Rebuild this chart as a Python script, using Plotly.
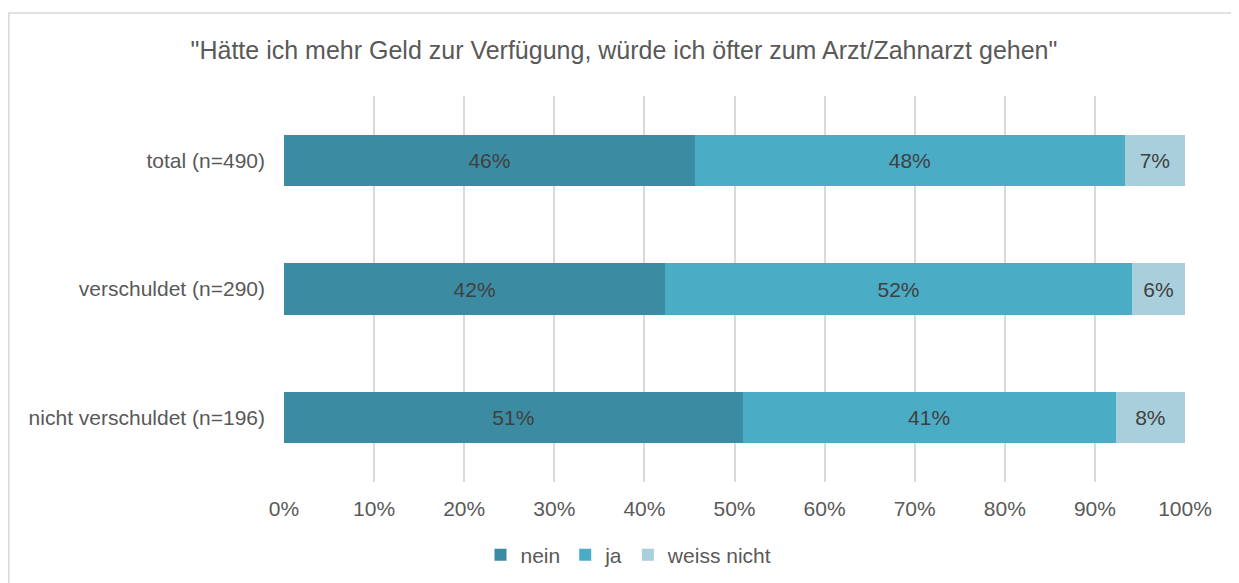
import plotly.graph_objects as go

categories = ["total (n=490)", "verschuldet (n=290)", "nicht verschuldet (n=196)"]
nein = [45.6, 42.3, 50.9]
ja = [47.7, 51.8, 41.4]
weiss_nicht = [6.7, 5.9, 7.7]
series_names = ["nein", "ja", "weiss nicht"]
colors = ["#3B8BA3", "#4BACC6", "#A9CFDC"]
tick_vals = [0, 10, 20, 30, 40, 50, 60, 70, 80, 90, 100]
tick_text = [f"{v}%" for v in tick_vals]

FONT = "Liberation Sans, Arial, sans-serif"

fig = go.Figure()
for name, vals, col in zip(series_names, [nein, ja, weiss_nicht], colors):
    fig.add_trace(go.Bar(
        y=categories, x=vals, name=name, orientation="h",
        marker=dict(color=col, line=dict(width=0)),
        text=[f"{round(v)}%" for v in vals],
        textposition="inside", insidetextanchor="middle",
        textfont=dict(family=FONT, size=21, color="#404040"),
        hoverinfo="skip",
    ))

# page is offset by the default 8px body margin
OFF = 8
W, H = 1239, 583
L = 284 - OFF
T = 96 - OFF
PR = 1185 - OFF
PB = 482 - OFF
R = W - PR
B = H - PB
pw, ph = PR - L, PB - T

def px_x(p):
    return (p - OFF - L) / pw

def px_y(p):
    return (PB - (p - OFF)) / ph

fig.update_layout(
    width=W, height=H,
    barmode="stack", bargap=0.6,
    paper_bgcolor="white", plot_bgcolor="white",
    margin=dict(l=L, r=R, t=T, b=B, autoexpand=False),
    font=dict(family=FONT, color="#595959", size=21),
    title=dict(text='"Hätte ich mehr Geld zur Verfügung, würde ich öfter zum Arzt/Zahnarzt gehen"',
               xref="paper", x=px_x(624), xanchor="center",
               yref="container", y=1 - (50 - OFF) / H, yanchor="middle",
               font=dict(family=FONT, size=25, color="#595959")),
    xaxis=dict(range=[0, 100], tickvals=tick_vals, ticktext=tick_text,
               showgrid=True, gridcolor="#D9D9D9", gridwidth=1.5,
               zeroline=False, showline=False, ticks="", ticklabelstandoff=12,
               tickfont=dict(family=FONT, size=21, color="#595959")),
    yaxis=dict(autorange="reversed", showgrid=False, zeroline=False, showline=False,
               ticks="", ticklabelstandoff=18,
               tickfont=dict(family=FONT, size=21, color="#595959")),
    legend=dict(orientation="h", x=px_x(629), xanchor="center", y=px_y(555), yanchor="middle",
                font=dict(family=FONT, size=21, color="#595959"), traceorder="normal",
                itemwidth=30),
    showlegend=True,
    shapes=[dict(type="rect", xref="paper", yref="paper",
                 x0=(0.75 - L) / pw, x1=px_x(1280), y0=px_y(620), y1=px_y(13),
                 line=dict(color="#D9D9D9", width=1.5), fillcolor="rgba(0,0,0,0)",
                 layer="below")],
)

fig.write_html("out.html")
